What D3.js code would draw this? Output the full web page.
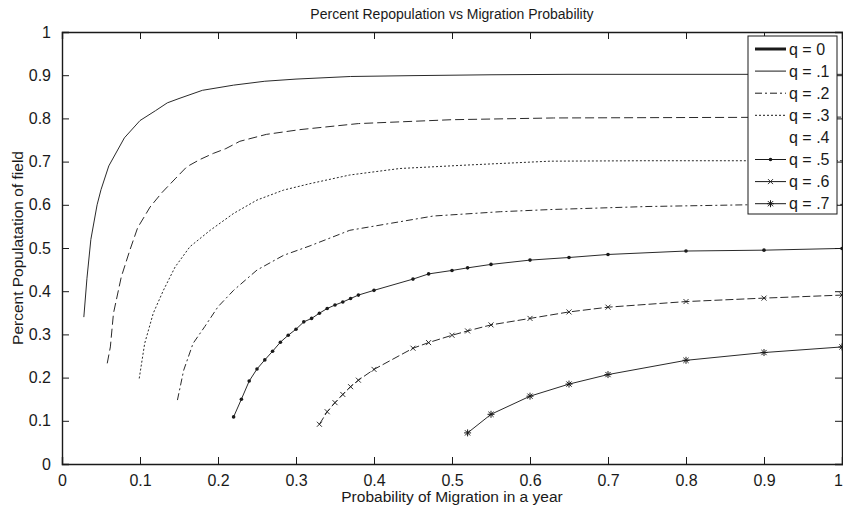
<!DOCTYPE html>
<html>
<head>
<meta charset="utf-8">
<script src="https://cdn.jsdelivr.net/npm/d3@7"></script>
<style>
  body { margin: 0; background: #fff; }
  svg { font-family: "Liberation Sans", Arial, sans-serif; }
</style>
</head>
<body>
<script>
// curve data, one pair of arrays per q
const q1X = [0.028, 0.032, 0.037, 0.045, 0.05, 0.06, 0.08, 0.1, 0.12, 0.135, 0.15, 0.18, 0.22, 0.26, 0.3, 0.37, 0.45, 0.55, 0.65, 0.75, 0.85, 1.0];
const q1Y = [0.34, 0.43, 0.52, 0.6, 0.635, 0.69, 0.755, 0.795, 0.818, 0.836, 0.846, 0.865, 0.877, 0.886, 0.891, 0.897, 0.899, 0.901, 0.902, 0.902, 0.902, 0.902];

const q2X = [0.058, 0.062, 0.066, 0.076, 0.087, 0.097, 0.113, 0.128, 0.145, 0.16, 0.177, 0.194, 0.21, 0.228, 0.262, 0.305, 0.38, 0.5, 0.63, 0.8, 1.0];
const q2Y = [0.233, 0.271, 0.349, 0.433, 0.495, 0.547, 0.595, 0.628, 0.66, 0.688, 0.705, 0.719, 0.73, 0.747, 0.763, 0.774, 0.788, 0.797, 0.801, 0.802, 0.803];

const q3X = [0.099, 0.106, 0.117, 0.13, 0.145, 0.164, 0.19, 0.22, 0.25, 0.284, 0.318, 0.369, 0.433, 0.519, 0.626, 0.75, 0.9, 1.0];
const q3Y = [0.198, 0.279, 0.349, 0.402, 0.456, 0.503, 0.541, 0.58, 0.611, 0.634, 0.649, 0.669, 0.684, 0.692, 0.701, 0.702, 0.702, 0.702];

const q4X = [0.148, 0.156, 0.168, 0.183, 0.2, 0.22, 0.25, 0.284, 0.318, 0.369, 0.476, 0.562, 0.626, 0.75, 0.878, 1.0];
const q4Y = [0.148, 0.217, 0.279, 0.318, 0.364, 0.402, 0.449, 0.483, 0.505, 0.541, 0.574, 0.584, 0.589, 0.596, 0.6, 0.601];

const q5X = [0.22, 0.23, 0.24, 0.25, 0.26, 0.27, 0.28, 0.29, 0.3, 0.31, 0.32, 0.33, 0.34, 0.35, 0.36, 0.37, 0.38, 0.4, 0.45, 0.47, 0.5, 0.52, 0.55, 0.6, 0.65, 0.7, 0.8, 0.9, 1.0];
const q5Y = [0.109, 0.15, 0.192, 0.22, 0.241, 0.261, 0.282, 0.298, 0.312, 0.329, 0.337, 0.349, 0.36, 0.368, 0.375, 0.383, 0.391, 0.402, 0.428, 0.44, 0.448, 0.454, 0.462, 0.472, 0.478, 0.485, 0.493, 0.495, 0.499];

const q6X = [0.33, 0.34, 0.35, 0.36, 0.37, 0.38, 0.4, 0.45, 0.47, 0.5, 0.52, 0.55, 0.6, 0.65, 0.7, 0.8, 0.9, 1.0];
const q6Y = [0.092, 0.121, 0.142, 0.161, 0.179, 0.194, 0.219, 0.268, 0.281, 0.298, 0.308, 0.322, 0.337, 0.352, 0.363, 0.376, 0.384, 0.391];

const q7X = [0.52, 0.55, 0.6, 0.65, 0.7, 0.8, 0.9, 1.0];
const q7Y = [0.072, 0.115, 0.157, 0.185, 0.207, 0.24, 0.258, 0.271];

const xTicks = [0, 0.1, 0.2, 0.3, 0.4, 0.5, 0.6, 0.7, 0.8, 0.9, 1];
const yTicks = [0, 0.1, 0.2, 0.3, 0.4, 0.5, 0.6, 0.7, 0.8, 0.9, 1];
const legendLabels = ["q = 0", "q = .1", "q = .2", "q = .3", "q = .4", "q = .5", "q = .6", "q = .7"];

const width = 843, height = 510;
const margin = { top: 32, right: 1, bottom: 46, left: 62 };
const innerW = width - margin.left - margin.right;
const innerH = height - margin.top - margin.bottom;
const ink = "#1a1a1a";

const svg = d3.select("body").append("svg")
  .attr("width", width).attr("height", height);

const x = d3.scaleLinear().domain([0, 1]).range([margin.left, margin.left + innerW]);
const y = d3.scaleLinear().domain([0, 1]).range([margin.top + innerH, margin.top]);

// series definitions: style per curve
const series = [
  { xs: q1X, ys: q1Y, dash: null, marker: null },
  { xs: q2X, ys: q2Y, dash: "9,4", marker: null },
  { xs: q3X, ys: q3Y, dash: "2,2", marker: null },
  { xs: q4X, ys: q4Y, dash: "7,3,2,3", marker: null },
  { xs: q5X, ys: q5Y, dash: null, marker: "dot" },
  { xs: q6X, ys: q6Y, dash: "8,3", marker: "x" },
  { xs: q7X, ys: q7Y, dash: null, marker: "star" },
];

const line = d3.line().x((d) => x(d[0])).y((d) => y(d[1]));

function drawMarker(g, type, cx, cy) {
  if (type === "dot") {
    g.append("circle").attr("cx", cx).attr("cy", cy).attr("r", 1.8).attr("fill", ink);
  } else if (type === "x") {
    const s = 2.5;
    g.append("path")
      .attr("d", `M${cx - s},${cy - s}L${cx + s},${cy + s}M${cx - s},${cy + s}L${cx + s},${cy - s}`)
      .attr("stroke", ink).attr("stroke-width", 0.9);
  } else if (type === "star") {
    const s = 3.5, d = 2.6;
    g.append("path")
      .attr("d", `M${cx - s},${cy}L${cx + s},${cy}M${cx},${cy - s}L${cx},${cy + s}` +
        `M${cx - d},${cy - d}L${cx + d},${cy + d}M${cx - d},${cy + d}L${cx + d},${cy - d}`)
      .attr("stroke", ink).attr("stroke-width", 1);
  }
}

const plot = svg.append("g").attr("class", "curves");
series.forEach((s) => {
  const pts = s.xs.map((v, i) => [v, s.ys[i]]);
  plot.append("path")
    .attr("d", line(pts))
    .attr("fill", "none")
    .attr("stroke", "#2a2a2a")
    .attr("stroke-width", 1)
    .attr("stroke-dasharray", s.dash);
  if (s.marker) {
    pts.forEach((p) => drawMarker(plot, s.marker, x(p[0]), y(p[1])));
  }
});

// axes box and ticks (MATLAB style, ticks inside on all four sides)
const tickLen = 7;
const axes = svg.append("g").attr("class", "axes");
const xAxisG = axes.append("g").attr("transform", `translate(0,${margin.top + innerH})`)
  .call(d3.axisBottom(x).tickValues(xTicks).tickSize(-tickLen).tickPadding(tickLen + 4)
    .tickFormat((d) => d3.format("")(d)));
axes.append("g").attr("transform", `translate(0,${margin.top})`)
  .call(d3.axisTop(x).tickValues(xTicks).tickSize(-tickLen).tickFormat(""));
axes.append("g").attr("transform", `translate(${margin.left},0)`)
  .call(d3.axisLeft(y).tickValues(yTicks).tickSize(-tickLen).tickPadding(tickLen + 4)
    .tickFormat((d) => d3.format("")(d)));
axes.append("g").attr("transform", `translate(${margin.left + innerW},0)`)
  .call(d3.axisRight(y).tickValues(yTicks).tickSize(-tickLen).tickFormat(""));

axes.selectAll(".domain").attr("stroke", ink).attr("stroke-width", 1.4);
axes.selectAll(".tick line").attr("stroke", ink);
axes.selectAll(".tick text").attr("fill", ink).attr("font-size", 16)
  .attr("font-family", "Liberation Sans, Arial, sans-serif");
// last x label sits at the window edge: keep it inside
xAxisG.selectAll(".tick text").filter((d) => d === 1)
  .attr("text-anchor", "end").attr("dx", 0.5);

// legend
const legX = 748, legY = 36, legW = 89, legH = 178, rowH = 22.1;
const leg = svg.append("g").attr("class", "legend");
leg.append("rect").attr("x", legX).attr("y", legY).attr("width", legW).attr("height", legH)
  .attr("fill", "#fff").attr("stroke", ink).attr("stroke-width", 1);

const legStyles = [
  { w: 3, dash: null, marker: null, show: true },
  { w: 1, dash: null, marker: null, show: true },
  { w: 1, dash: "7,3,2,3", marker: null, show: true },
  { w: 1, dash: "2,2", marker: null, show: true },
  { w: 1, dash: null, marker: null, show: false },
  { w: 1, dash: null, marker: "dot", show: true },
  { w: 1, dash: null, marker: "x", show: true },
  { w: 1, dash: null, marker: "star", show: true },
];
legendLabels.forEach((lab, i) => {
  const cy = legY + 13 + i * rowH;
  const st = legStyles[i];
  if (st.show) {
    leg.append("line").attr("x1", 755).attr("x2", 786).attr("y1", cy).attr("y2", cy)
      .attr("stroke", ink).attr("stroke-width", st.w).attr("stroke-dasharray", st.dash);
  }
  if (st.marker) drawMarker(leg, st.marker, 770.5, cy);
  leg.append("text").attr("x", 789).attr("y", cy + 5.5)
    .attr("font-size", 16).attr("fill", ink).text(lab);
});

// titles
svg.append("text").attr("x", x(0.5)).attr("y", 19).attr("text-anchor", "middle")
  .attr("font-size", 14).attr("fill", ink)
  .text("Percent Repopulation vs Migration Probability");
svg.append("text").attr("x", x(0.5)).attr("y", 502).attr("text-anchor", "middle")
  .attr("font-size", 15.5).attr("fill", ink)
  .text("Probability of Migration in a year");
svg.append("text").attr("transform", `translate(23,${y(0.5)}) rotate(-90)`)
  .attr("text-anchor", "middle").attr("font-size", 15.5).attr("fill", ink)
  .text("Percent Populatation of field");
</script>
</body>
</html>
